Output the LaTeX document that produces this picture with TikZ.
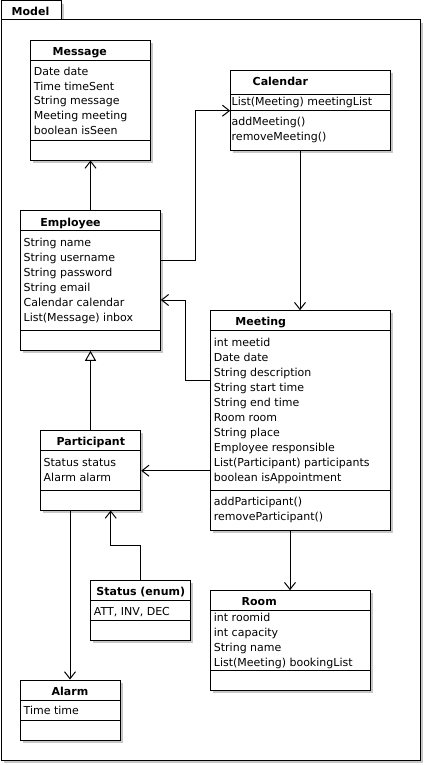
\documentclass[tikz,border=0pt]{standalone}
\usepackage{fontspec}
\setmainfont{DejaVu Sans}
\usetikzlibrary{arrows.meta,shadows,calc}
\begin{document}
\begin{tikzpicture}[x=1pt,y=-1pt,
  font=\fontsize{11}{15}\selectfont,
  shd/.style={general shadow={fill=black!22, shadow xshift=2.6pt, shadow yshift=-2.6pt}},
  cls/.style={draw, line width=1pt, fill=white, inner sep=0pt, shd},
  ttl/.style={anchor=base west, inner sep=0pt, font=\fontsize{11}{15}\selectfont\bfseries},
  txt/.style={anchor=base west, inner sep=0pt},
  sep/.style={line width=1pt},
  conn/.style={line width=1pt, -{Straight Barb[length=7pt,width=11pt]}},
  gen/.style={line width=1pt, -{Triangle[open,length=10pt,width=11pt,fill=white]}}]
\useasboundingbox (0,0) rectangle (425,765);
\fill[white] (0,0) rectangle (425,765);

% package frame
\draw[line width=1pt, fill=white, shd] (1,1) rectangle (61,20);
\draw[line width=1pt, fill=white, shd] (1,20) rectangle (420.7,760);
\node[ttl] (model) at (11.5,15.7) {Model};

% Message
\node[cls, minimum width=119.6pt, minimum height=119.3pt] (msg) at (90.5,100.35) {};
\draw[sep] (30.7,60.3) -- (150.3,60.3) (30.7,140.3) -- (150.3,140.3);
\node[ttl] (msgT) at (52.5,55.3) {Message};
\node[txt] (msg1) at (33.7,75.3) {Date date};
\node[txt] (msg2) at (33.7,90.2) {Time timeSent};
\node[txt] (msg3) at (33.7,105.0) {String message};
\node[txt] (msg4) at (33.7,119.9) {Meeting meeting};
\node[txt] (msg5) at (33.7,134.7) {boolean isSeen};

% Calendar
\node[cls, minimum width=160pt, minimum height=79.3pt] (cal) at (310.7,110.35) {};
\draw[sep] (230.7,95) -- (390.7,95) (230.7,110.7) -- (390.7,110.7);
\node[ttl] (calT) at (252.5,85.7) {Calendar};
\node[txt] (cal1) at (231.5,105.3) {List(Meeting) meetingList};
\node[txt] (cal2) at (231.5,125.5) {addMeeting()};
\node[txt] (cal3) at (231.5,140.5) {removeMeeting()};

% Employee
\node[cls, minimum width=139.6pt, minimum height=139.6pt] (emp) at (90.5,280.5) {};
\draw[sep] (20.7,230.7) -- (160.3,230.7) (20.7,330.3) -- (160.3,330.3);
\node[ttl] (empT) at (40.2,226) {Employee};
\node[txt] (emp1) at (23.5,246.3) {String name};
\node[txt] (emp2) at (23.5,261.3) {String username};
\node[txt] (emp3) at (23.5,276.3) {String password};
\node[txt] (emp4) at (23.5,291.3) {String email};
\node[txt] (emp5) at (23.5,306.3) {Calendar calendar};
\node[txt] (emp6) at (23.5,321.3) {List(Message) inbox};

% Meeting
\node[cls, minimum width=180pt, minimum height=219.3pt] (mtg) at (300.7,420.35) {};
\draw[sep] (210.7,330.7) -- (390.7,330.7) (210.7,490.7) -- (390.7,490.7);
\node[ttl] (mtgT) at (235.2,325.7) {Meeting};
\node[txt] (mtg1) at (213.7,346.3) {int meetid};
\node[txt] (mtg2) at (213.7,361.3) {Date date};
\node[txt] (mtg3) at (213.7,376.3) {String description};
\node[txt] (mtg4) at (213.7,391.3) {String start time};
\node[txt] (mtg5) at (213.7,406.3) {String end time};
\node[txt] (mtg6) at (213.7,421.3) {Room room};
\node[txt] (mtg7) at (213.7,436.3) {String place};
\node[txt] (mtg8) at (213.7,451.3) {Employee responsible};
\node[txt] (mtg9) at (213.7,466.3) {List(Participant) participants};
\node[txt] (mtg10) at (213.7,481.3) {boolean isAppointment};
\node[txt] (mtg11) at (213.7,505.7) {addParticipant()};
\node[txt] (mtg12) at (213.7,520.9) {removeParticipant()};

% Participant
\node[cls, minimum width=100pt, minimum height=79.3pt] (par) at (90.7,470.35) {};
\draw[sep] (40.7,450.7) -- (140.7,450.7) (40.7,490.7) -- (140.7,490.7);
\node[ttl] (parT) at (56.5,445.7) {Participant};
\node[txt] (par1) at (43.5,466.3) {Status status};
\node[txt] (par2) at (43.5,481.3) {Alarm alarm};

% Status (enum)
\node[cls, minimum width=100pt, minimum height=59.6pt] (sta) at (140.7,610.5) {};
\draw[sep] (90.7,600.7) -- (190.7,600.7) (90.7,620.7) -- (190.7,620.7);
\node[ttl] (staT) at (96.2,595.7) {Status (enum)};
\node[txt] (sta1) at (93.7,615) {ATT, INV, DEC};

% Room
\node[cls, minimum width=159.6pt, minimum height=99.3pt] (rm) at (290.5,640.35) {};
\draw[sep] (210.7,610.7) -- (370.3,610.7) (210.7,670) -- (370.3,670);
\node[ttl] (rmT) at (241.5,605.7) {Room};
\node[txt] (rm1) at (213.7,621.3) {int roomid};
\node[txt] (rm2) at (213.7,636.3) {int capacity};
\node[txt] (rm3) at (213.7,651.3) {String name};
\node[txt] (rm4) at (213.7,666.3) {List(Meeting) bookingList};

% Alarm
\node[cls, minimum width=100pt, minimum height=60.3pt] (alm) at (70.7,710.15) {};
\draw[sep] (20.7,700.7) -- (120.7,700.7) (20.7,720.3) -- (120.7,720.3);
\node[ttl] (almT) at (51.5,695) {Alarm};
\node[txt] (alm1) at (23.5,714.7) {Time time};

% connectors
\draw[conn] (emp.north) -- (msg.south);
\draw[conn] (emp.east |- 0,260.3) -- (195,260.3) |- (cal.west |- 0,110.7);
\draw[conn] (cal.south -| 300,0) -- (mtg.north -| 300,0);
\draw[conn] (mtg.west |- 0,380) -- (185,380) |- (emp.east |- 0,300);
\draw[gen] (par.north -| 90.5,0) -- (emp.south);
\draw[conn] (mtg.west |- 0,470.7) -- (par.east |- 0,470.7);
\draw[conn] (sta.north) -- (140.7,545) -| (par.south -| 110.7,0);
\draw[conn] (par.south -| 70,0) -- (alm.north -| 70,0);
\draw[conn] (mtg.south -| 290,0) -- (rm.north -| 290,0);
\end{tikzpicture}
\end{document}
